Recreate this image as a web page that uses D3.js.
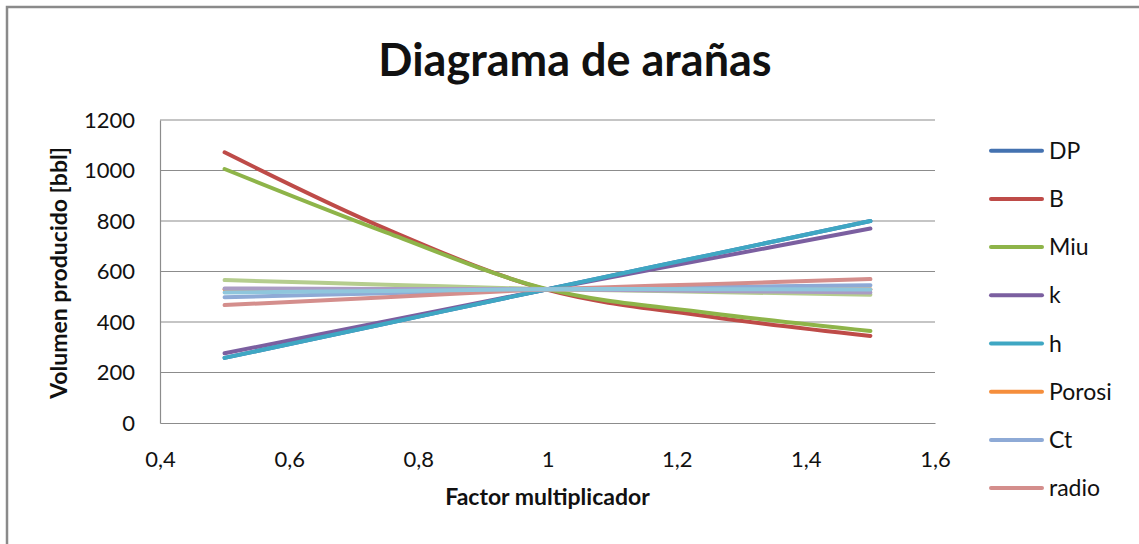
<!DOCTYPE html>
<html>
<head>
<meta charset="utf-8">
<script src="https://cdn.jsdelivr.net/npm/d3@7"></script>
<style>
  body { margin: 0; background: #fff; }
  svg text { font-family: Lato, 'Open Sans', sans-serif; fill: #111; }
</style>
</head>
<body>
<svg id="chart" width="1139" height="544"></svg>
<script>
const factors = [0.5, 0.75, 1, 1.25, 1.5]

const seriesNames = ['DP', 'B', 'Miu', 'k', 'h', 'Porosi', 'Ct', 'radio', 'Serie9', 'Serie10', 'Serie11']
const seriesColors = ['#4472b0', '#be4b48', '#8eb449', '#7b5fa0', '#3fa7c3', '#f58e3c', '#8eaad6', '#d48e8c', '#b5cd8e', '#aa9cc4', '#8fc6dc']

const dpValues = [258, 394, 530, 665, 800]
const bValues = [1072, 769, 527, 422, 345]
const miuValues = [1006, 755, 530, 436, 364]
const kValues = [276, 403, 530, 650, 770]
const hValues = [258, 394, 530, 665, 800]
const porosiValues = [530, 530, 530, 530, 530]
const ctValues = [498, 514, 530, 538, 546]
const radioValues = [467, 498, 530, 550, 570]
const serie9Values = [566, 548, 530, 519, 508]
const serie10Values = [533, 531, 530, 523, 517]
const serie11Values = [517, 523, 530, 530, 529]

const xTicks = [0.4, 0.6, 0.8, 1, 1.2, 1.4, 1.6]
const yTicks = [0, 200, 400, 600, 800, 1000, 1200]

const allValues = [dpValues, bValues, miuValues, kValues, hValues, porosiValues,
  ctValues, radioValues, serie9Values, serie10Values, serie11Values]
const legendCount = 8

const svg = d3.select('#chart')

// chart frame, right and bottom edges run past the window
svg.append('rect')
  .attr('x', 7).attr('y', 7)
  .attr('width', 1300).attr('height', 700)
  .attr('fill', '#fff')
  .attr('stroke', '#8a8a8a')
  .attr('stroke-width', 2.5)

const plot = { left: 160, right: 935, top: 120, bottom: 423 }

const xScale = d3.scaleLinear().domain([0.4, 1.6]).range([plot.left, plot.right])
const yScale = d3.scaleLinear().domain([0, 1200]).range([plot.bottom, plot.top])

const commaFormat = v => d3.format('~g')(v).replace('.', ',')

svg.append('text')
  .attr('x', 575).attr('y', 76)
  .attr('text-anchor', 'middle')
  .attr('font-size', 45)
  .attr('font-weight', 'bold')
  .text('Diagrama de arañas')

// gridlines
svg.append('g')
  .attr('class', 'grid')
  .selectAll('line')
  .data(yTicks.filter(t => t > 0))
  .join('line')
  .attr('x1', plot.left).attr('x2', plot.right)
  .attr('y1', d => yScale(d)).attr('y2', d => yScale(d))
  .attr('stroke', '#8c8c8c')
  .attr('stroke-width', 1.2)

svg.append('g')
  .attr('transform', `translate(0, ${plot.bottom})`)
  .call(d3.axisBottom(xScale).tickValues(xTicks).tickSize(0).tickPadding(28).tickFormat(commaFormat))
  .call(g => {
    g.select('.domain').attr('stroke', '#8c8c8c').attr('stroke-width', 1.2)
    g.selectAll('.tick text').attr('font-size', 22).attr('font-family', null).attr('fill', '#111')
  })

svg.append('g')
  .attr('transform', `translate(${plot.left}, 0)`)
  .call(d3.axisLeft(yScale).tickValues(yTicks).tickSize(0).tickPadding(25).tickFormat(d3.format('d')))
  .call(g => {
    g.select('.domain').attr('stroke', '#8c8c8c').attr('stroke-width', 1.2)
    g.selectAll('.tick text').attr('font-size', 22).attr('font-family', null).attr('fill', '#111')
  })

svg.append('text')
  .attr('x', xScale(1)).attr('y', 505)
  .attr('text-anchor', 'middle')
  .attr('font-size', 23)
  .attr('font-weight', 'bold')
  .text('Factor multiplicador')

svg.append('text')
  .attr('transform', `translate(67, 273) rotate(-90)`)
  .attr('text-anchor', 'middle')
  .attr('font-size', 23)
  .attr('font-weight', 'bold')
  .text('Volumen producido [bbl]')

const line = d3.line()
  .x((d, i) => xScale(factors[i]))
  .y(d => yScale(d))
  .curve(d3.curveCatmullRom.alpha(0.5))

svg.append('g')
  .attr('class', 'series')
  .selectAll('path')
  .data(allValues)
  .join('path')
  .attr('d', d => line(d))
  .attr('fill', 'none')
  .attr('stroke', (d, i) => seriesColors[i])
  .attr('stroke-width', 4)
  .attr('stroke-linecap', 'round')
  .attr('stroke-linejoin', 'round')

const legend = svg.append('g')
  .attr('class', 'legend')
  .selectAll('g')
  .data(seriesNames.slice(0, legendCount))
  .join('g')
  .attr('transform', (d, i) => `translate(990, ${150.7 + i * 48.2})`)

legend.append('line')
  .attr('x1', 1).attr('x2', 52)
  .attr('stroke', (d, i) => seriesColors[i])
  .attr('stroke-width', 4)
  .attr('stroke-linecap', 'round')

legend.append('text')
  .attr('x', 59).attr('y', 8)
  .attr('font-size', 23)
  .text(d => d)
</script>
</body>
</html>
